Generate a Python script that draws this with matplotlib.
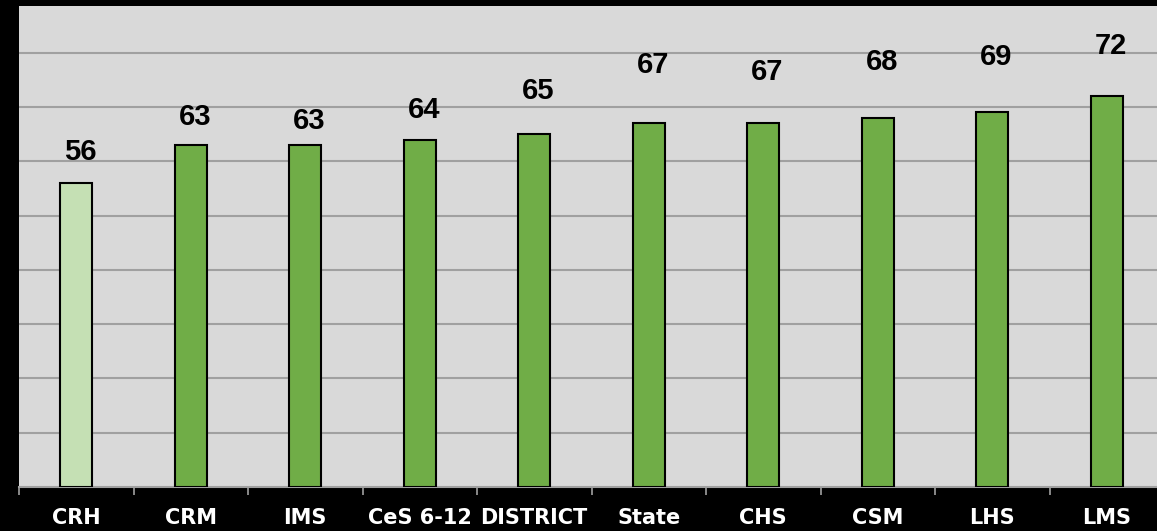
import matplotlib
matplotlib.use('Agg')
import matplotlib.pyplot as plt
import numpy as np

# school scores
schools = ['CRH', 'CRM', 'IMS', 'CeS 6-12', 'DISTRICT', 'State', 'CHS', 'CSM', 'LHS', 'LMS']
scores = [56, 63, 63, 64, 65, 67, 67, 68, 69, 72]
colors = ['#c5e0b4'] + ['#70ad47'] * 9
# extra lift of the value labels above the bar tops (points), as placed in the original
label_lift = [22, 20, 17, 21, 31, 42, 37, 40, 40, 36]

plt.rcParams['font.family'] = ['Liberation Sans', 'DejaVu Sans']

fig = plt.figure(figsize=(11.57, 5.31), dpi=100, facecolor='black')
ax = fig.add_axes([19 / 1157, 44 / 531, 1145 / 1157, 481 / 531])
ax.set_facecolor('#d9d9d9')

x = np.arange(len(schools))
bars = ax.bar(x, scores, width=0.28, color=colors, edgecolor='black', linewidth=1.5, zorder=3)

for xi, v, lift in zip(x, scores, label_lift):
    ax.annotate(str(v), (xi, v), xytext=(3, lift), textcoords='offset points',
                ha='center', va='center', fontsize=21, fontweight='bold', color='black')

ax.set_xlim(-0.5, len(schools) - 0.5)
ax.set_ylim(0, 88.6)
ax.set_yticks(np.arange(10, 81, 10))
ax.yaxis.grid(True, color='#a0a0a0', linewidth=1.5, zorder=0)
ax.tick_params(axis='y', left=False, labelleft=False)

ax.set_xticks(x)
ax.set_xticklabels(schools, color='white', fontsize=15, fontweight='bold', family='DejaVu Sans')
ax.set_xticks(np.arange(-0.5, len(schools), 1), minor=True)
ax.tick_params(axis='x', which='major', length=0, pad=15)
ax.tick_params(axis='x', which='minor', length=6, width=1.2, color='#a0a0a0', direction='out')

for s in ['top', 'right', 'left']:
    ax.spines[s].set_visible(False)
ax.spines['bottom'].set_color('#a0a0a0')
ax.spines['bottom'].set_linewidth(1.5)

fig.savefig('out.png', dpi=100, facecolor='black')
